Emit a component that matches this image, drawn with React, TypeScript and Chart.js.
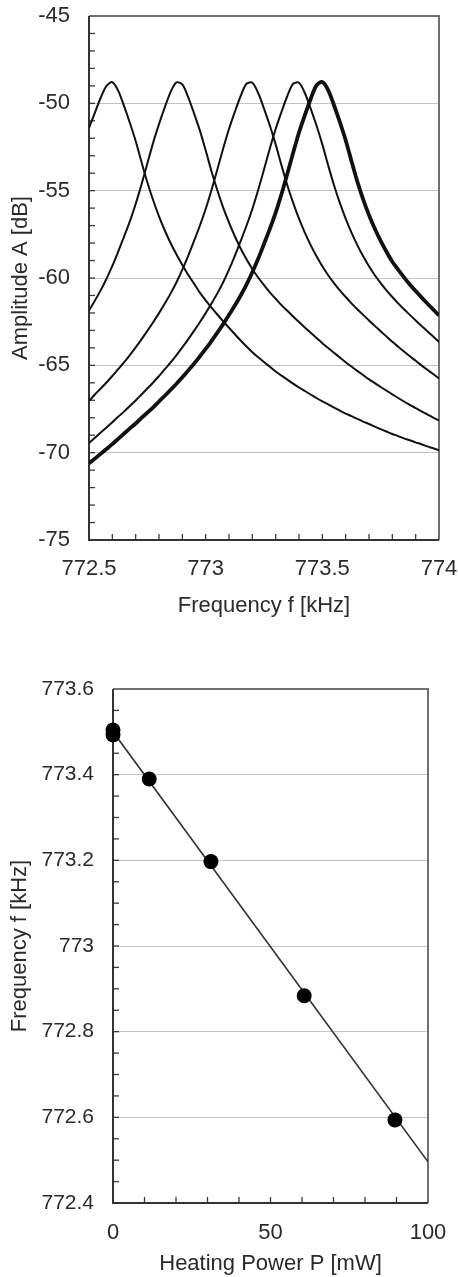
import React, { useEffect, useRef } from 'react';
import { Chart, registerables } from 'chart.js';

Chart.register(...registerables);

// ---------- Top chart: resonance curves ----------
const FREQ = [
  772.5, 772.525, 772.55, 772.575, 772.6, 772.625, 772.65, 772.675, 772.7, 772.725,
  772.75, 772.775, 772.8, 772.825, 772.85, 772.875, 772.9, 772.925, 772.95, 772.975,
  773.0, 773.025, 773.05, 773.075, 773.1, 773.125, 773.15, 773.175, 773.2, 773.225,
  773.25, 773.275, 773.3, 773.325, 773.35, 773.375, 773.4, 773.425, 773.45, 773.475,
  773.5, 773.525, 773.55, 773.575, 773.6, 773.625, 773.65, 773.675, 773.7, 773.725,
  773.75, 773.775, 773.8, 773.825, 773.85, 773.875, 773.9, 773.925, 773.95, 773.975,
  774.0,
];

const AMP_90MW = [
  -51.4, -50.55, -49.68, -49.0, -48.79, -49.27, -50.15, -51.11, -52.16, -53.36,
  -54.52, -55.55, -56.47, -57.28, -58.01, -58.66, -59.25, -59.81, -60.32, -60.84,
  -61.28, -61.69, -62.09, -62.48, -62.85, -63.22, -63.58, -63.92, -64.25, -64.54,
  -64.81, -65.08, -65.35, -65.59, -65.82, -66.05, -66.27, -66.47, -66.67, -66.87,
  -67.06, -67.24, -67.42, -67.59, -67.76, -67.91, -68.07, -68.22, -68.36, -68.51,
  -68.65, -68.79, -68.93, -69.05, -69.18, -69.29, -69.41, -69.52, -69.64, -69.75,
  -69.86,
];

const AMP_61MW = [
  -61.86, -61.3, -60.71, -60.04, -59.31, -58.49, -57.64, -56.76, -55.76, -54.64,
  -53.45, -52.25, -51.19, -50.22, -49.34, -48.8, -48.92, -49.65, -50.57, -51.55,
  -52.69, -53.89, -54.98, -55.97, -56.83, -57.61, -58.31, -58.93, -59.48, -59.97,
  -60.41, -60.82, -61.19, -61.55, -61.88, -62.2, -62.52, -62.83, -63.13, -63.43,
  -63.73, -64.01, -64.28, -64.55, -64.82, -65.07, -65.32, -65.56, -65.8, -66.02,
  -66.24, -66.45, -66.66, -66.87, -67.07, -67.26, -67.45, -67.63, -67.81, -67.99,
  -68.16,
];

const AMP_31MW = [
  -67.05, -66.67, -66.33, -65.98, -65.61, -65.22, -64.83, -64.41, -63.97, -63.51,
  -63.03, -62.53, -62.01, -61.46, -60.88, -60.24, -59.52, -58.73, -57.88, -57.01,
  -56.05, -54.96, -53.79, -52.59, -51.47, -50.49, -49.58, -48.88, -48.82, -49.41,
  -50.3, -51.27, -52.35, -53.55, -54.69, -55.7, -56.6, -57.4, -58.12, -58.76,
  -59.33, -59.84, -60.29, -60.71, -61.09, -61.45, -61.79, -62.11, -62.43, -62.74,
  -63.05, -63.35, -63.65, -63.93, -64.21, -64.48, -64.74, -65.0, -65.25, -65.5,
  -65.75,
];

const AMP_11MW = [
  -69.45, -69.15, -68.85, -68.56, -68.26, -67.95, -67.65, -67.33, -67.01, -66.67,
  -66.33, -65.98, -65.61, -65.22, -64.83, -64.41, -63.97, -63.51, -63.03, -62.53,
  -62.01, -61.46, -60.88, -60.24, -59.52, -58.73, -57.88, -57.01, -56.05, -54.96,
  -53.79, -52.59, -51.47, -50.49, -49.58, -48.88, -48.82, -49.41, -50.3, -51.27,
  -52.35, -53.55, -54.69, -55.7, -56.6, -57.4, -58.12, -58.76, -59.33, -59.84,
  -60.29, -60.71, -61.09, -61.45, -61.79, -62.11, -62.43, -62.74, -63.05, -63.35,
  -63.67,
];

const AMP_0MW = [
  -70.61, -70.34, -70.07, -69.79, -69.51, -69.21, -68.91, -68.61, -68.33, -68.01,
  -67.71, -67.4, -67.07, -66.74, -66.4, -66.05, -65.68, -65.3, -64.91, -64.49,
  -64.06, -63.61, -63.13, -62.64, -62.11, -61.58, -61.0, -60.38, -59.67, -58.9,
  -58.05, -57.19, -56.26, -55.19, -54.03, -52.83, -51.67, -50.68, -49.75, -48.97,
  -48.78, -49.24, -50.11, -51.07, -52.11, -53.31, -54.48, -55.5, -56.4, -57.18,
  -57.88, -58.5, -59.07, -59.52, -59.96, -60.37, -60.75, -61.11, -61.46, -61.8,
  -62.15,
];

// ---------- Bottom chart: frequency vs heating power ----------
const POWER = [0, 0, 11.5, 31.1, 60.7, 89.5];
const PEAK_FREQ = [773.504, 773.493, 773.39, 773.197, 772.884, 772.594];
const FIT_POWER = [0, 100];
const FIT_FREQ = [773.5, 772.496];

const FONT_FAMILY = '"Liberation Sans", Arial, sans-serif';
const TEXT = '#2a2a2a';

const framePlugin = {
  id: 'frame',
  beforeDatasetsDraw(chart: any, _args: any, opts: any) {
    const { ctx, chartArea: a } = chart;
    const xs = chart.scales.x;
    const ys = chart.scales.y;
    ctx.save();
    ctx.strokeStyle = '#3a3a3a';
    ctx.lineWidth = 1.3;
    const nx = Math.round((xs.max - xs.min) / opts.xMinor);
    for (let i = 1; i < nx; i++) {
      const px = xs.getPixelForValue(xs.min + i * opts.xMinor);
      ctx.beginPath();
      ctx.moveTo(px, a.bottom);
      ctx.lineTo(px, a.bottom - opts.tickLen);
      ctx.stroke();
    }
    const ny = Math.round((ys.max - ys.min) / opts.yMinor);
    for (let i = 1; i < ny; i++) {
      const py = ys.getPixelForValue(ys.min + i * opts.yMinor);
      ctx.beginPath();
      ctx.moveTo(a.left, py);
      ctx.lineTo(a.left + opts.tickLen, py);
      ctx.stroke();
    }
    ctx.lineWidth = 2;
    ctx.strokeStyle = '#707070';
    ctx.beginPath();
    ctx.moveTo(a.left, a.top);
    ctx.lineTo(a.right, a.top);
    ctx.lineTo(a.right, a.bottom);
    ctx.stroke();
    ctx.strokeStyle = '#333333';
    ctx.beginPath();
    ctx.moveTo(a.left, a.top);
    ctx.lineTo(a.left, a.bottom);
    ctx.lineTo(a.right, a.bottom);
    ctx.stroke();
    ctx.restore();
  },
};

const toXY = (xs: number[], ys: number[]) => xs.map((x, i) => ({ x, y: ys[i] }));
const fmt1 = (v: any) => String(Math.round(Number(v) * 10) / 10);

const fixY = (w: number) => (s: any) => {
  s.width = w;
  s.paddingTop = 0;
  s.paddingBottom = 0;
};
const fixX = (h: number) => (s: any) => {
  s.height = h;
  s.paddingLeft = 0;
  s.paddingRight = 0;
};

export default function App() {
  const topRef = useRef<HTMLCanvasElement>(null);
  const botRef = useRef<HTMLCanvasElement>(null);

  useEffect(() => {
    const font = { family: FONT_FAMILY, size: 22 };
    const curve = (ys: number[], w: number) => ({
      data: toXY(FREQ, ys),
      borderColor: '#111111',
      borderWidth: w,
      pointRadius: 0,
      tension: 0.3,
      fill: false,
    });

    const c1 = new Chart(topRef.current as HTMLCanvasElement, {
      type: 'line',
      data: {
        datasets: [
          curve(AMP_90MW, 2),
          curve(AMP_61MW, 2),
          curve(AMP_31MW, 2),
          curve(AMP_11MW, 2),
          curve(AMP_0MW, 3.8),
        ],
      },
      options: {
        responsive: false,
        animation: false,
        devicePixelRatio: 1,
        layout: { padding: { top: 16, right: 19, bottom: 0, left: 0 } },
        plugins: {
          legend: { display: false },
          tooltip: { enabled: false },
          frame: { xMinor: 0.1, yMinor: 1, tickLen: 6 },
        } as any,
        scales: {
          x: {
            type: 'linear',
            min: 772.5,
            max: 774,
            grid: { display: false, drawTicks: false },
            border: { display: false },
            ticks: {
              stepSize: 0.5,
              padding: 16,
              maxRotation: 0,
              autoSkip: false,
              color: TEXT,
              font,
              callback: fmt1,
            },
            title: {
              display: true,
              text: 'Frequency f [kHz]',
              color: TEXT,
              font,
              padding: { top: 10, bottom: 21 },
            },
            afterFit: fixX(100),
          },
          y: {
            type: 'linear',
            min: -75,
            max: -45,
            grid: { color: '#c4c4c4', lineWidth: 1, drawTicks: false },
            border: { display: false },
            ticks: {
              stepSize: 5,
              padding: 19,
              color: TEXT,
              font,
              callback: (v: any) => String(Math.round(Number(v))),
            },
            title: {
              display: true,
              text: 'Amplitude A [dB]',
              color: TEXT,
              font,
              padding: { top: 8, bottom: 0 },
            },
            afterFit: fixY(89),
          },
        },
      },
      plugins: [framePlugin],
    } as any);

    const c2 = new Chart(botRef.current as HTMLCanvasElement, {
      type: 'scatter',
      data: {
        datasets: [
          {
            data: toXY(POWER, PEAK_FREQ),
            backgroundColor: '#000000',
            borderWidth: 0,
            pointRadius: 7.5,
            clip: false,
          },
          {
            data: toXY(FIT_POWER, FIT_FREQ),
            showLine: true,
            borderColor: '#333333',
            borderWidth: 1.6,
            pointRadius: 0,
          },
        ],
      },
      options: {
        responsive: false,
        animation: false,
        devicePixelRatio: 1,
        layout: { padding: { top: 49, right: 30, bottom: 0, left: 0 } },
        plugins: {
          legend: { display: false },
          tooltip: { enabled: false },
          frame: { xMinor: 10, yMinor: 0.05, tickLen: 6 },
        } as any,
        scales: {
          x: {
            type: 'linear',
            min: 0,
            max: 100,
            grid: { display: false, drawTicks: false },
            border: { display: false },
            ticks: {
              stepSize: 50,
              padding: 17,
              maxRotation: 0,
              autoSkip: false,
              color: TEXT,
              font,
            },
            title: {
              display: true,
              text: 'Heating Power P [mW]',
              color: TEXT,
              font,
              padding: { top: 4, bottom: 0 },
            },
            afterFit: fixX(74),
          },
          y: {
            type: 'linear',
            min: 772.4,
            max: 773.6,
            grid: { color: '#c4c4c4', lineWidth: 1, drawTicks: false },
            border: { display: false },
            ticks: {
              stepSize: 0.2,
              padding: 19,
              color: TEXT,
              font: { family: FONT_FAMILY, size: 21 },
              callback: fmt1,
            },
            title: {
              display: true,
              text: 'Frequency f [kHz]',
              color: TEXT,
              font,
              padding: { top: 7, bottom: 0 },
            },
            afterFit: fixY(113),
          },
        },
      },
      plugins: [framePlugin],
    } as any);

    return () => {
      c1.destroy();
      c2.destroy();
    };
  }, []);

  return (
    <div
      style={{
        position: 'absolute',
        left: 0,
        top: 0,
        width: 458,
        height: 1277,
        background: '#ffffff',
      }}
    >
      <canvas ref={topRef} width={458} height={640} style={{ display: 'block', width: 458, height: 640 }} />
      <canvas ref={botRef} width={458} height={637} style={{ display: 'block', width: 458, height: 637 }} />
    </div>
  );
}
